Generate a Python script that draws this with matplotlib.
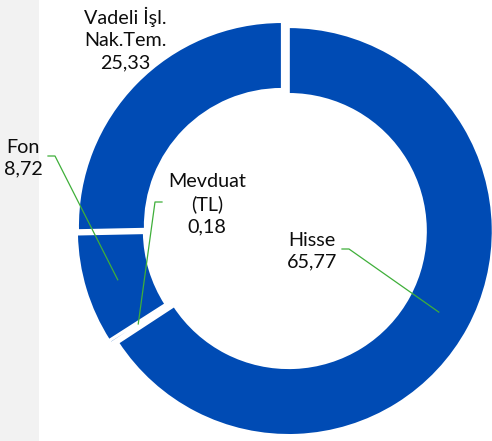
import matplotlib
matplotlib.use("Agg")
import matplotlib.pyplot as plt
import numpy as np
from matplotlib.patches import Rectangle

# values from the chart (Hisse starts at 12 o'clock, clockwise)
names = ["Hisse", "Mevduat\n(TL)", "Fon", "Vadeli İşl.\nNak.Tem."]
values = [65.77, 0.18, 8.72, 25.33]
value_text = ["65,77", "0,18", "8,72", "25,33"]

blue = "#004BB4"
green = "#3FAF3A"

plt.rcParams['font.family'] = ['Lato', 'DejaVu Sans']

fig = plt.figure(figsize=(4.92, 4.41), dpi=100)
ax = fig.add_axes([0, 0, 1, 1])

ax.add_patch(Rectangle((0, 0), 39, 441, color="#f2f2f2", zorder=0, lw=0))

cx, cy = 285, 212
R, W = 204, 67
wedges, _ = ax.pie(values, center=(cx, cy), radius=R, startangle=90,
                   counterclock=False, explode=[4.3] * len(values),
                   colors=[blue] * len(values),
                   wedgeprops=dict(width=W, edgecolor="white", linewidth=1.5),
                   frame=True)
ax.set_xlim(0, 492)
ax.set_ylim(0, 441)
ax.set_aspect('equal')
ax.axis('off')

# label placement (image coords, y from top)
lab_xy = [(312, 251), (207, 204), (23, 158), (125, 39)]
leader = [[(342, 249), (349, 249)], [(162, 202), (155, 202)],
          [(48, 156), (55, 156)], None]

for w, nm, vt, (lx, ly), ld in zip(wedges, names, value_text, lab_xy, leader):
    ax.text(lx, 441 - ly, nm + "\n" + vt, ha="center", va="center",
            fontsize=14.2, color="#0d0d0d", linespacing=1.35, zorder=5)
    if ld is None:
        continue
    th = np.deg2rad((w.theta1 + w.theta2) / 2)
    rm = w.r - w.width / 2
    mx = w.center[0] + rm * np.cos(th)
    my = w.center[1] + rm * np.sin(th)
    xs = [p[0] for p in ld] + [mx]
    ys = [441 - p[1] for p in ld] + [my]
    ax.plot(xs, ys, color=green, lw=0.9, zorder=4)

fig.savefig("out.png", dpi=100)
